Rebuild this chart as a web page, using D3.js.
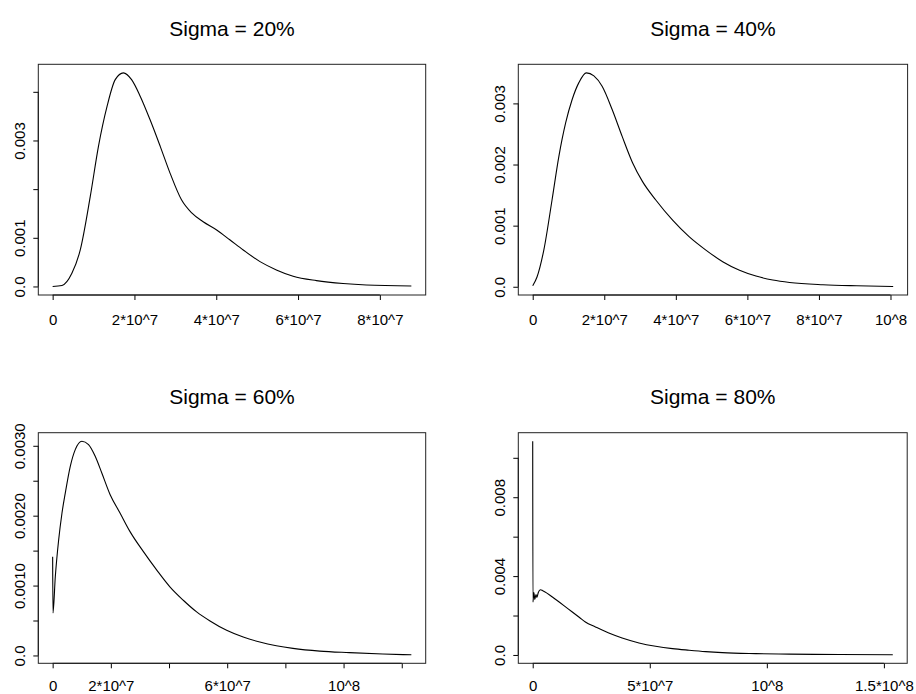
<!DOCTYPE html>
<html>
<head>
<meta charset="utf-8">
<script src="https://cdn.jsdelivr.net/npm/d3@7"></script>
<style>
  body { margin: 0; background: #ffffff; }
  svg text { font-family: "Liberation Sans", Arial, Helvetica, sans-serif; fill: #000; }
</style>
</head>
<body>
<svg id="chart" width="916" height="694"></svg>
<script>
// Density of the terminal value for four volatility levels

const titles = ["Sigma = 20%", "Sigma = 40%", "Sigma = 60%", "Sigma = 80%"];

// sigma = 20%
const value20 = [0, 2.28e6, 4.7e6, 6.75e6, 9.2e6, 1.12e7, 1.33e7, 1.53e7, 1.73e7, 1.93e7, 2.14e7,
  2.38e7, 2.63e7, 2.87e7, 3.15e7, 3.4e7, 3.68e7, 4.01e7, 4.33e7, 4.66e7, 5.07e7, 5.47e7,
  5.88e7, 6.45e7, 7.1e7, 7.67e7, 8.77e7];
const dens20 = [0, 0.00002, 0.00027, 0.00075, 0.00185, 0.00288, 0.0037, 0.00425, 0.00439, 0.00425, 0.00391,
  0.00343, 0.00288, 0.00233, 0.00178, 0.00151, 0.00133, 0.00116, 0.00096, 0.00075, 0.00051, 0.00034,
  0.00021, 0.00012, 0.00006, 0.00003, 0.00001];

// sigma = 40%
const value40 = [0, 1.2e6, 3.1e6, 5.4e6, 7.3e6, 9.2e6, 1.1e7, 1.29e7, 1.5e7, 1.71e7, 1.94e7,
  2.22e7, 2.5e7, 2.79e7, 3.07e7, 3.44e7, 3.91e7, 4.37e7, 4.84e7, 5.31e7, 5.78e7, 6.24e7,
  6.71e7, 7.18e7, 8.11e7, 9.05e7, 1.0075e8];
const dens40 = [0.000016, 0.00016, 0.0006, 0.00142, 0.00213, 0.00268, 0.00306, 0.00334, 0.0035, 0.00345, 0.00328,
  0.0029, 0.00246, 0.00203, 0.00172, 0.00142, 0.00109, 0.00082, 0.0006, 0.00041, 0.00027, 0.000175,
  0.00011, 0.00007, 0.000033, 0.000016, 0.000005];

// sigma = 60%
const value60 = [0, 1.1e5, 9.1e5, 2.06e6, 3.2e6, 4.34e6, 6.06e6, 7.77e6, 1.006e7, 1.234e7, 1.463e7, 1.69e7,
  1.977e7, 2.32e7, 2.66e7, 3.12e7, 3.58e7, 4.03e7, 4.49e7, 4.95e7, 5.41e7, 5.98e7, 6.55e7,
  7.12e7, 7.69e7, 8.26e7, 9.18e7, 1.02e8, 1.135e8, 1.233e8];
const dens60 = [0.001413, 0.000608, 0.001125, 0.001652, 0.002035, 0.002323, 0.002706, 0.002945, 0.003065, 0.003017, 0.00285, 0.00261,
  0.002299, 0.002035, 0.001772, 0.001485, 0.001221, 0.000982, 0.00079, 0.000623, 0.000493, 0.000359, 0.000263,
  0.000192, 0.000139, 0.000101, 0.000062, 0.00004, 0.00002, 0.00001];

// sigma = 80%
const value80 = [0, 1e5, 5e5, 9e5, 1.4e6, 1.8e6, 2.4e6, 3.3e6, 4.3e6, 1.0e7, 1.5e7, 2.0e7,
  2.25e7, 2.68e7, 3.25e7, 3.82e7, 4.54e7, 5.25e7, 5.97e7, 6.68e7, 7.39e7, 8.1e7, 9.53e7,
  1.096e8, 1.31e8, 1.538e8];
const dens80 = [0.01084, 0.00268, 0.00317, 0.00282, 0.00307, 0.00292, 0.00317, 0.00331, 0.00326, 0.0028, 0.00235, 0.0019,
  0.00167, 0.00142, 0.00111, 0.00086, 0.00061, 0.00044, 0.00032, 0.00024, 0.00017, 0.00012, 0.00007,
  0.00004, 0.00002, 0.00001];

// axis ticks and their labels (blank where the label is left out)
const xTicks20 = [0, 2e7, 4e7, 6e7, 8e7];
const xLabels20 = ["0", "2*10^7", "4*10^7", "6*10^7", "8*10^7"];
const yTicks20 = [0, 0.001, 0.002, 0.003, 0.004];
const yLabels20 = ["0.0", "0.001", "", "0.003", ""];

const xTicks40 = [0, 2e7, 4e7, 6e7, 8e7, 1e8];
const xLabels40 = ["0", "2*10^7", "4*10^7", "6*10^7", "8*10^7", "10^8"];
const yTicks40 = [0, 0.001, 0.002, 0.003];
const yLabels40 = ["0.0", "0.001", "0.002", "0.003"];

const xTicks60 = [0, 2e7, 4e7, 6e7, 8e7, 1e8, 1.2e8];
const xLabels60 = ["0", "2*10^7", "", "6*10^7", "", "10^8", ""];
const yTicks60 = [0, 0.0005, 0.001, 0.0015, 0.002, 0.0025, 0.003];
const yLabels60 = ["0.0", "", "0.0010", "", "0.0020", "", "0.0030"];

const xTicks80 = [0, 5e7, 1e8, 1.5e8];
const xLabels80 = ["0", "5*10^7", "10^8", "1.5*10^8"];
const yTicks80 = [0, 0.002, 0.004, 0.006, 0.008, 0.010];
const yLabels80 = ["0.0", "", "0.004", "", "0.008", ""];

const panels = [
  { title: titles[0], xs: value20, ys: dens20, xt: xTicks20, xl: xLabels20, yt: yTicks20, yl: yLabels20,
    box: { x0: 38.3, x1: 425.7, y0: 64.3, y1: 295 }, labelGap: 30 },
  { title: titles[1], xs: value40, ys: dens40, xt: xTicks40, xl: xLabels40, yt: yTicks40, yl: yLabels40,
    box: { x0: 518.3, x1: 907.6, y0: 64.3, y1: 295 }, labelGap: 30 },
  { title: titles[2], xs: value60, ys: dens60, xt: xTicks60, xl: xLabels60, yt: yTicks60, yl: yLabels60,
    box: { x0: 38.3, x1: 425.7, y0: 432.7, y1: 663.3 }, labelGap: 27.3 },
  { title: titles[3], xs: value80, ys: dens80, xt: xTicks80, xl: xLabels80, yt: yTicks80, yl: yLabels80,
    box: { x0: 518.3, x1: 907.2, y0: 432.7, y1: 663.3 }, labelGap: 27.3 }
];

// extend a data range by 4% on each side
function padded(ext) {
  const d = (ext[1] - ext[0]) * 0.04;
  return [ext[0] - d, ext[1] + d];
}

const svg = d3.select("#chart");

panels.forEach(p => {
  const b = p.box;
  const x = d3.scaleLinear().domain(padded(d3.extent(p.xs))).range([b.x0, b.x1]);
  const y = d3.scaleLinear().domain(padded(d3.extent(p.ys))).range([b.y1, b.y0]);
  const g = svg.append("g");

  // title
  g.append("text")
    .attr("x", (b.x0 + b.x1) / 2)
    .attr("y", b.y0 - 28.3)
    .attr("text-anchor", "middle")
    .style("font-size", "21px")
    .text(p.title);

  // bottom axis
  const xa = g.append("g")
    .attr("transform", `translate(0,${b.y1})`)
    .call(d3.axisBottom(x).tickValues(p.xt).tickFormat((d, i) => p.xl[i]).tickSize(5).tickSizeOuter(0));
  xa.select(".domain").remove();
  xa.selectAll("line").attr("stroke", "#000");
  xa.selectAll("text").attr("y", p.labelGap).attr("dy", 0).style("font-size", "15px").attr("fill", "#000");
  xa.append("line")
    .attr("x1", x(p.xt[0])).attr("x2", x(p.xt[p.xt.length - 1]))
    .attr("stroke", "#000");

  // left axis with rotated labels
  const ya = g.append("g")
    .attr("transform", `translate(${b.x0},0)`)
    .call(d3.axisLeft(y).tickValues(p.yt).tickFormat((d, i) => p.yl[i]).tickSize(5).tickSizeOuter(0));
  ya.select(".domain").remove();
  ya.selectAll("line").attr("stroke", "#000");
  ya.selectAll("text")
    .attr("x", 0).attr("y", -13).attr("dy", 0)
    .attr("text-anchor", "middle")
    .attr("transform", "rotate(-90)")
    .style("font-size", "15px").attr("fill", "#000");
  ya.append("line")
    .attr("y1", y(p.yt[0])).attr("y2", y(p.yt[p.yt.length - 1]))
    .attr("stroke", "#000");

  // plot frame
  g.append("rect")
    .attr("x", b.x0).attr("y", b.y0)
    .attr("width", b.x1 - b.x0).attr("height", b.y1 - b.y0)
    .attr("fill", "none").attr("stroke", "#222").attr("stroke-width", 1);

  // density curve
  const line = d3.line()
    .x((d, i) => x(p.xs[i]))
    .y(d => y(d))
    .curve(d3.curveMonotoneX);
  g.append("path")
    .datum(p.ys)
    .attr("d", line)
    .attr("fill", "none")
    .attr("stroke", "#000")
    .attr("stroke-width", 1.1);
});
</script>
</body>
</html>
